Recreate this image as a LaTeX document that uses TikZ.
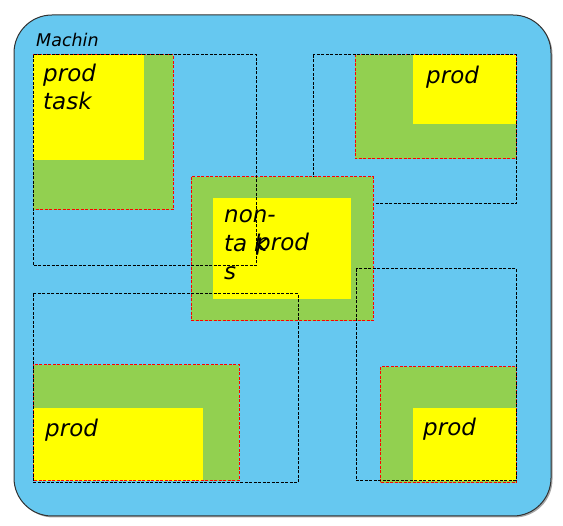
\documentclass[tikz,border=0pt]{standalone}
\usepackage{fontspec}
\newfontfamily\handfont{DejaVu Sans}
\usetikzlibrary{shadows}
\begin{document}
\begin{tikzpicture}[x=1pt,y=-1pt,
  outerbox/.style={fill=skyblue,draw=outline,line width=1pt,rounded corners=38pt,
     drop shadow={shadow xshift=1.5pt,shadow yshift=-1.5pt,opacity=0.35,fill=black}},
  greenbox/.style={fill=leafgreen},
  yellowbox/.style={fill=pureyellow},
  reddash/.style={draw=red,line width=1pt,dash pattern=on 3pt off 1.5pt},
  blackdash/.style={draw=black,line width=1pt,dash pattern=on 3pt off 1.5pt},
  hand/.style={font=\handfont\itshape\fontsize{23}{27}\selectfont,inner sep=0pt,anchor=base west,text=black},
  smallhand/.style={font=\handfont\itshape\fontsize{17.5}{20}\selectfont,inner sep=0pt,anchor=base west,text=black}]
\definecolor{skyblue}{RGB}{102,200,240}
\definecolor{leafgreen}{RGB}{146,208,80}
\definecolor{pureyellow}{RGB}{255,255,0}
\definecolor{outline}{RGB}{50,50,50}
\useasboundingbox (0,0) rectangle (563,526);
% outer machine box
\path[outerbox] (14,15) rectangle (551,516);
\node[smallhand] (machin) at (36,47) {Machin};
% top-right group (below centre group)
\path[greenbox] (355,55) rectangle (516,159);
\path[yellowbox] (413,55) rectangle (516,124);
\path[reddash] (355,54.5) rectangle (516,159);
\path[blackdash] (313,55) rectangle (516,204);
% centre group
\path[greenbox] (191,177) rectangle (373,321);
\path[yellowbox] (213,198) rectangle (351,299);
\path[reddash] (191,177) rectangle (373,321);
% top-left group
\path[greenbox] (33,55) rectangle (173,210);
\path[yellowbox] (33,55) rectangle (144,160);
\path[reddash] (33,55) rectangle (173,210);
\path[blackdash] (33,55) rectangle (256,266);
% bottom-left group
\path[greenbox] (33,365) rectangle (239,481);
\path[yellowbox] (33,408) rectangle (203,481);
\path[reddash] (33,365) rectangle (239,481);
\path[blackdash] (33,294) rectangle (298,483);
% bottom-right group
\path[greenbox] (380,367) rectangle (516,483);
\path[yellowbox] (413,408) rectangle (516,481);
\path[reddash] (380,367) rectangle (516,483);
\path[blackdash] (356,269) rectangle (516,481);
% texts
\node[hand] (tl1) at (43,82) {prod};
\node[hand] (tl2) at (43,110) {task};
\node[hand] (tr) at (426,84) {prod};
\node[hand] (bl) at (45,437) {prod};
\node[hand] (br) at (423,436) {prod};
\node[hand] (c1) at (224,223) {non-};
\node[hand] (c2) at (224,252) {ta};
\node[hand] (c3) at (254,252) {k};
\node[hand] (c4) at (256,251) {prod};
\node[hand] (c5) at (224,280) {s};
\end{tikzpicture}
\end{document}
